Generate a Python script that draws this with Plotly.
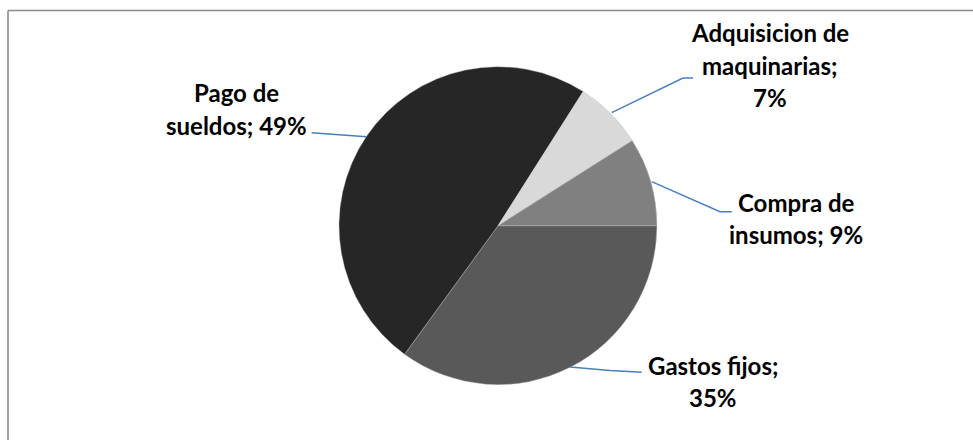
import plotly.graph_objects as go

# Expense shares (percent)
categories = ["Gastos fijos", "Pago de sueldos", "Adquisicion de maquinarias", "Compra de insumos"]
values = [35, 49, 7, 9]
colors = ["#595959", "#262626", "#d9d9d9", "#808080"]

# How each data label is wrapped: text before "|" breaks onto a new line
wrapped = ["Gastos fijos;|{v}%", "Pago de|sueldos; {v}%",
           "Adquisicion de|maquinarias;|{v}%", "Compra de|insumos; {v}%"]

W, H = 973, 440
FONT = "Lato"
FS = 24
LINE_H = 32.5
LEADER = "#4a7ebb"


def px(x):
    return x / W


def py(y):
    return 1 - y / H


# pie placement in pixels
cx, cy, r = 498, 225.7, 159

fig = go.Figure(go.Pie(
    labels=categories,
    values=values,
    sort=False,
    direction="clockwise",
    rotation=90,
    marker=dict(colors=colors, line=dict(color="#bfbfbf", width=0.4)),
    textinfo="none",
    hoverinfo="label+percent",
    showlegend=False,
    domain=dict(x=[px(cx - r), px(cx + r)], y=[py(cy + r), py(cy - r)]),
))

# label anchors: (center x, baseline of first line) in pixels
label_pos = [(713, 373), (236, 100.7), (769.5, 40.5), (796, 210)]

annotations = []
for (lx, ly), tmpl, v in zip(label_pos, wrapped, values):
    for i, line in enumerate(tmpl.format(v=v).split("|")):
        base = ly + i * LINE_H
        annotations.append(dict(
            x=px(lx), y=py(base - 0.33 * FS), xref="paper", yref="paper",
            text=f"<b>{line}</b>", showarrow=False,
            xanchor="center", yanchor="middle",
            font=dict(family=FONT, size=FS, color="#000000"),
        ))

# leader lines from slices to their labels
leaders = [
    [(570, 367), (610, 370.5), (641.7, 372.3)],
    [(366.5, 136.7), (311.7, 132.7)],
    [(611.7, 112.7), (683, 78), (693, 78)],
    [(651.7, 181.7), (720, 211.7), (731.7, 211.7)],
]

shapes = []
for pts in leaders:
    path = "M " + " L ".join(f"{px(x)},{py(y)}" for x, y in pts)
    shapes.append(dict(type="path", path=path, xref="paper", yref="paper",
                       line=dict(color=LEADER, width=1.4)))

# chart-area frame (top and left edges visible)
shapes.append(dict(type="line", xref="paper", yref="paper",
                   x0=px(8), y0=py(10.5), x1=1.01, y1=py(10.5),
                   line=dict(color="#8c8c8c", width=1.6)))
shapes.append(dict(type="line", xref="paper", yref="paper",
                   x0=px(8), y0=py(10.5), x1=px(8), y1=-0.01,
                   line=dict(color="#8c8c8c", width=1.6)))

fig.update_layout(
    width=W, height=H,
    margin=dict(l=0, r=0, t=0, b=0),
    paper_bgcolor="#ffffff",
    plot_bgcolor="#ffffff",
    annotations=annotations,
    shapes=shapes,
)

fig.write_html("out.html")
